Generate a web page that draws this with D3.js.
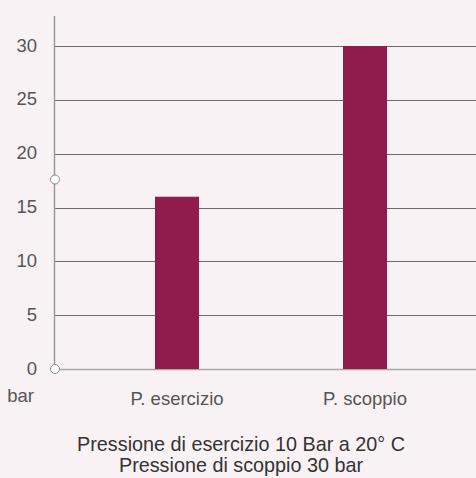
<!DOCTYPE html>
<html><head><meta charset="utf-8">
<script src="https://cdn.jsdelivr.net/npm/d3@7"></script>
<style>
html,body{margin:0;padding:0;background:#f9f2f4;}
svg{display:block;font-family:"Liberation Sans",Arial,sans-serif;}
</style></head>
<body><svg id="c" width="476" height="478"></svg>
<script>
const categories = ["P. esercizio", "P. scoppio"];
const values = [16, 30];
const yTicks = [0, 5, 10, 15, 20, 25, 30];
const handleValues = [17.6, 0];
const unitLabel = "bar";
const titleLines = ["Pressione di esercizio 10 Bar a 20° C", "Pressione di scoppio 30 bar"];

const svg = d3.select("#c");
const W = 476, H = 478;
const x0 = 54;
const y = d3.scaleLinear().domain([0, 30]).range([369, 46]);
const x = d3.scaleBand().domain(categories).range([83, 459]);
const barW = 44;

// gridlines
svg.append("g").selectAll("line").data(yTicks.filter(d => d > 0)).join("line")
  .attr("x1", x0).attr("x2", W).attr("y1", d => Math.round(y(d)) + 0.5).attr("y2", d => Math.round(y(d)) + 0.5)
  .attr("stroke", "#6b6b6b").attr("stroke-width", 1);
// baseline
svg.append("line").attr("x1", x0).attr("x2", W).attr("y1", Math.round(y(0)) + 0.5).attr("y2", Math.round(y(0)) + 0.5)
  .attr("stroke", "#a6a6a6").attr("stroke-width", 1.5);

// bars
svg.append("g").selectAll("rect").data(categories).join("rect")
  .attr("x", c => x(c) + (x.bandwidth() - barW) / 2)
  .attr("width", barW)
  .attr("y", (c, i) => y(values[i]))
  .attr("height", (c, i) => y(0) - y(values[i]))
  .attr("fill", "#901c4c");

// y axis line
svg.append("line").attr("x1", x0 + 0.5).attr("x2", x0 + 0.5).attr("y1", 16).attr("y2", y(0))
  .attr("stroke", "#9a9a9a").attr("stroke-width", 1.5);

// tick labels
svg.append("g").selectAll("text").data(yTicks).join("text")
  .attr("x", 37).attr("y", d => y(d) + 5.5)
  .attr("text-anchor", "end").attr("font-size", 18.5).attr("fill", "#555")
  .text(d => d);

svg.append("text").attr("x", 20.5).attr("y", 402).attr("text-anchor", "middle")
  .attr("font-size", 18.5).attr("fill", "#555").text(unitLabel);

// handles
svg.append("g").selectAll("circle").data(handleValues).join("circle")
  .attr("cx", x0 + 1).attr("cy", d => y(d)).attr("r", 4.5)
  .attr("fill", "#fff").attr("stroke", "#8a8a8a").attr("stroke-width", 1);

// category labels
svg.append("g").selectAll("text").data(categories).join("text")
  .attr("x", c => x(c) + x.bandwidth() / 2).attr("y", 405)
  .attr("text-anchor", "middle").attr("font-size", 18.5).attr("fill", "#555")
  .text(c => c);

// title
svg.append("g").selectAll("text").data(titleLines).join("text")
  .attr("x", 241).attr("y", (d, i) => 451 + i * 20.5)
  .attr("text-anchor", "middle").attr("font-size", 19.8).attr("fill", "#333")
  .text(d => d);
</script></body></html>
